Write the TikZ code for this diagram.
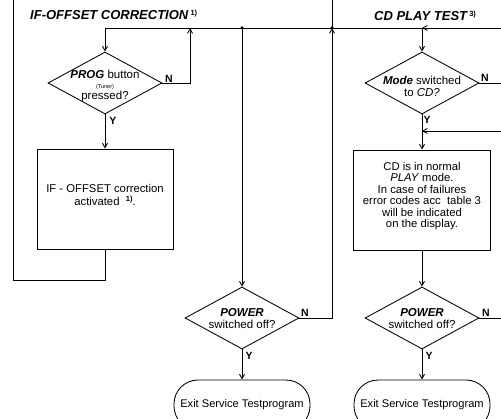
\documentclass[tikz,border=0pt]{standalone}
\usepackage{fontspec}
\setmainfont{Liberation Sans}
\usetikzlibrary{arrows.meta,shapes.geometric}
\tikzset{
  ln/.style={line width=0.85pt},
  arr/.style={ln, -{Straight Barb[length=4.5pt,width=5pt]}},
  dia/.style={draw, ln, diamond, inner sep=0pt, minimum width=114pt, minimum height=62pt},
  procbox/.style={draw, ln, rectangle, minimum width=136pt, minimum height=100pt},
  term/.style={draw, ln, rounded corners=24pt, minimum width=136pt, minimum height=50pt, font=\fontsize{11.1}{12}\selectfont, inner sep=0pt},
  txt/.style={align=center, font=\fontsize{11.3}{11.5}\selectfont, inner sep=0pt},
  dtxt/.style={align=center, font=\fontsize{11.5}{12}\selectfont, inner sep=0pt},
  lab/.style={font=\bfseries\fontsize{10.5}{10.5}\selectfont, inner sep=0pt},
  ttl/.style={font=\bfseries\itshape\fontsize{13}{14}\selectfont, inner sep=0pt},
  jdot/.style={circle, fill, inner sep=0pt, minimum size=3.5pt},
}
\newcommand{\fnm}[1]{\raisebox{4pt}{\upshape\bfseries\fontsize{7.5}{8}\selectfont #1}}
\begin{document}
\begin{tikzpicture}[x=1pt,y=-1pt]
\useasboundingbox (0,0) rectangle (501,419);
\clip (0,0) rectangle (501,419);

% titles
\node[ttl, anchor=west] (t1) at (30,15) {IF-OFFSET CORRECTION\,\fnm{1)}};
\node[ttl, anchor=west] (t2) at (374,16) {CD PLAY TEST\,\fnm{3)}};

% coordinates
\coordinate (topR) at (501,28);
\coordinate (jCD) at (422,28);
\coordinate (j3) at (332,28);
\coordinate (j2) at (242,28);
\coordinate (j1) at (190,28);
\coordinate (cL) at (105,28);
\coordinate (lb) at (105,280);
\coordinate (lt) at (13,0);
\coordinate (rt) at (332,0);
\coordinate (loopR) at (501,131);
\coordinate (loopJ) at (422,131);

% nodes
\node[dia] (d1) at (105,83) {};
\node[dtxt] (d1t) at (105,86) {\textbf{\textit{PROG}} button\\[-2.5pt]{\fontsize{5.5}{6}\selectfont (Tuner)}\\[-1pt]pressed?};

\node[procbox] (b1) at (105,199) {};
\node[txt] (b1t) at (105,195) {IF - OFFSET correction\\[1pt]activated \ \fnm{1)}.};

\node[dia] (d2) at (422,83) {};
\node[dtxt] (d2t) at (422,86) {\textbf{\textit{Mode}} switched\\to \textit{CD?}};

\node[procbox, minimum width=137pt] (b2) at (422,200) {};
\node[txt] (b2t) at (422,196) {CD is in normal\\\textit{PLAY} mode.\\In case of failures\\error codes acc\ \ table 3\\will be indicated\\on the display.};

\node[dia] (d3) at (242,318) {};
\node[dtxt] (d3t) at (242,319) {\textbf{\textit{POWER}}\\switched off?};

\node[dia] (d4) at (422,318) {};
\node[dtxt] (d4t) at (422,319) {\textbf{\textit{POWER}}\\switched off?};

\node[term] (e1) at (242,405) {Exit Service Testprogram};
\node[term] (e2) at (422,405) {Exit Service Testprogram};

% labels
\node[lab] (n1) at (169,79) {N};
\node[lab] (y1) at (113,121) {Y};
\node[lab] (n2) at (485,78) {N};
\node[lab] (y2) at (427,120) {Y};
\node[lab] (n3) at (305,313) {N};
\node[lab] (y3) at (249,356) {Y};
\node[lab] (n4) at (486,313) {N};
\node[lab] (y4) at (429,356) {Y};

% connectors
\draw[arr] (topR) -- (jCD);
\draw[arr] (jCD) -- (d2.north);
\draw[arr] (jCD) -- (cL) -- (d1.north);
\draw[arr] (d1.east) -- (d1.east -| j1) -- (j1);
\draw[arr] (d1.south) -- (b1.north);
\draw[ln] (b1.south) -- (lb) -| (lt);
\draw[arr] (j2) -- (d3.north);
\draw[arr] (d3.east) -| (j3);
\draw[ln] (j3) -- (rt);
\draw[ln] (d2.east) -- (d2.east -| topR);
\draw[arr] (loopR) -- (loopJ);
\draw[arr] (d2.south) -- (b2.north);
\draw[arr] (b2.south) -- (d4.north);
\draw[ln] (d4.east) -- (d4.east -| topR);
\draw[arr] (d3.south) -- (e1.north);
\draw[arr] (d4.south) -- (e2.north);

\node[jdot] (k2) at (j2) {};
\node[jdot] (k3) at (j3) {};
\end{tikzpicture}
\end{document}
